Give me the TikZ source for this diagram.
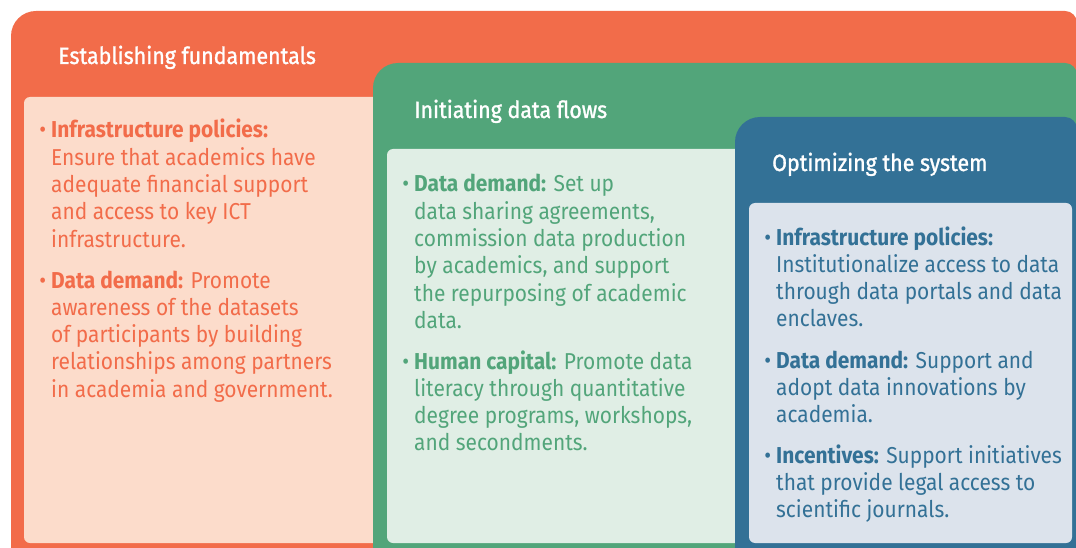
\documentclass[tikz,border=0pt]{standalone}
\usepackage{fontspec}
\setmainfont{Fira Sans}[FakeStretch=0.91]
\newfontfamily\ttlfont{Fira Sans}[FakeStretch=0.91, FakeBold=1.2]
\definecolor{orng}{RGB}{242,108,74}
\definecolor{grn}{RGB}{82,165,122}
\definecolor{blu}{RGB}{51,113,150}
\definecolor{peach}{RGB}{252,220,203}
\definecolor{lgrn}{RGB}{224,238,229}
\definecolor{lblu}{RGB}{220,227,236}
\tikzset{
  ttl/.style={anchor=base west, inner sep=0pt, text=white, font=\ttlfont\fontsize{23.5}{28}\selectfont},
  itm/.style={anchor=base west, inner sep=0pt, text=#1, font=\fontsize{23}{27.3}\selectfont},
  inbox/.style={rounded corners=6pt}
}
\newcommand{\itembox}[1]{\parbox[t]{330pt}{\raggedright\leavevmode\llap{\textbullet\hspace{5pt}}#1}}
\begin{document}
\begin{tikzpicture}[x=1pt,y=-1pt]
\useasboundingbox (0,0) rectangle (1076,548);
\clip (0,0) rectangle (1076,548);
% outer boxes
\fill[orng] (11,580) -- (11,36) arc[start angle=180, end angle=270, radius=25] -- (1065,11) arc[start angle=270, end angle=360, radius=12] -- (1077,580) -- cycle;
\fill[peach, inbox] (24,97) rectangle (400,543);
\fill[grn] (373,580) -- (373,88) arc[start angle=180, end angle=270, radius=25] -- (1065,63) arc[start angle=270, end angle=360, radius=12] -- (1077,580) -- cycle;
\fill[lgrn, inbox] (387,149) rectangle (760,543);
\fill[blu] (735,580) -- (735,142) arc[start angle=180, end angle=270, radius=25] -- (1065,117) arc[start angle=270, end angle=360, radius=12] -- (1077,580) -- cycle;
\fill[lblu, inbox] (749,203) rectangle (1072,543);
% titles
\node[ttl] (t1) at (58,64) {Establishing fundamentals};
\node[ttl] (t2) at (414,118) {Initiating data flows};
\node[ttl] (t3) at (772,171) {Optimizing the system};
% orange items
\node[itm=orng] (o1) at (51,138) {\itembox{\textbf{Infrastructure policies:}\\
Ensure that academics have\\
adequate financial support\\
and access to key ICT\\
infrastructure.}};
\node[itm=orng] (o2) at (51,288) {\itembox{\textbf{Data demand:} Promote\\
awareness of the datasets\\
of participants by building\\
relationships among partners\\
in academia and government.}};
% green items
\node[itm=grn] (g1) at (414,192) {\itembox{\textbf{Data demand:} Set up\\
data sharing agreements,\\
commission data production\\
by academics, and support\\
the repurposing of academic\\
data.}};
\node[itm=grn] (g2) at (414,369) {\itembox{\textbf{Human capital:} Promote data\\
literacy through quantitative\\
degree programs, workshops,\\
and secondments.}};
% blue items
\node[itm=blu] (b1) at (776,245) {\itembox{\textbf{Infrastructure policies:}\\
Institutionalize access to data\\
through data portals and data\\
enclaves.}};
\node[itm=blu] (b2) at (776,368) {\itembox{\textbf{Data demand:} Support and\\
adopt data innovations by\\
academia.}};
\node[itm=blu] (b3) at (776,463) {\itembox{\textbf{Incentives:} Support initiatives\\
that provide legal access to\\
scientific journals.}};
\end{tikzpicture}
\end{document}
